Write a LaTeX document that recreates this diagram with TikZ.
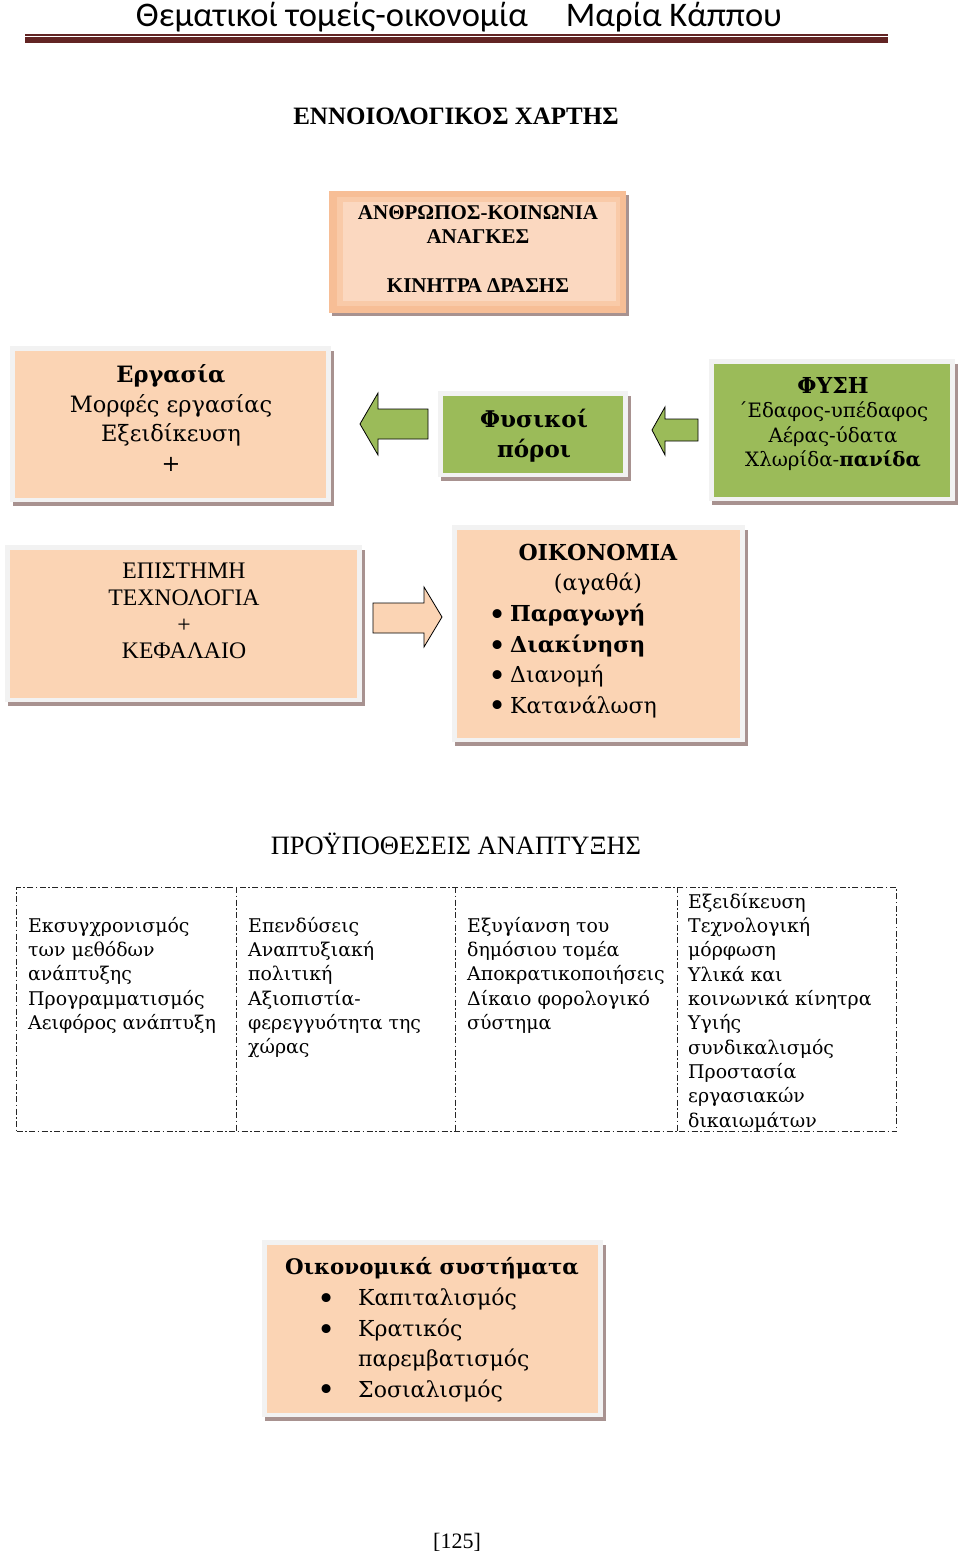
\documentclass[tikz,border=0pt]{standalone}
\usepackage{fontspec}
\setmainfont{DejaVu Serif}
\newfontfamily\tms{Liberation Serif}
\newfontfamily\hdr{Carlito}
\definecolor{peach}{HTML}{FBD4B4}
\definecolor{grn}{HTML}{9BBB59}
\definecolor{frm}{HTML}{F2F2F2}
\definecolor{shad}{HTML}{A89290}
\definecolor{maroon}{HTML}{622423}
\definecolor{topo}{HTML}{F7BE96}
\definecolor{topm}{HTML}{F9CAA8}
\definecolor{topi}{HTML}{FBD8C0}
\newcommand\bul[1]{\makebox[#1][l]{\raisebox{-0.17em}{\scalebox{1.4}{•}}}}
% panel: x1 y1 x2 y2 fill name
\newcommand\panel[6]{%
  \fill[shad] ({#1+3},{#2+5}) rectangle (#3,#4);
  \fill[frm] (#1,#2) rectangle ({#3-3},{#4-4});
  \node[fill=#5, inner sep=0, anchor=north west, minimum width={(#3-#1-13)*1pt}, minimum height={(#4-#2-13)*1pt}] (#6) at ({#1+5},{#2+5}) {};
}
\tikzset{
  txt/.style={inner sep=0, align=center},
  blockarrow/.style={draw=black, line width=0.8pt, line join=miter},
  dashdot/.style={draw=black!85, line width=1pt, dash pattern=on 6pt off 2.5pt on 1.5pt off 2.5pt}
}
\begin{document}
\begin{tikzpicture}[x=1pt,y=-1pt]
\useasboundingbox[fill=white] (0,0) rectangle (960,1557);

% header
\node[txt, font={\hdr\fontsize{34.5}{38}\selectfont}] (hdr) at (459,17) {Θεματικοί τομείς-οικονομία\hspace{38pt}Μαρία Κάππου};
\draw[maroon, line width=1.2pt] (25,35) -- (888,35);
\fill[maroon] (25,37.5) rectangle (888,43);

\node[txt, font={\tms\bfseries\fontsize{25}{28}\selectfont}] (title) at (456,116) {ΕΝΝΟΙΟΛΟΓΙΚΟΣ ΧΑΡΤΗΣ};

% top box
\fill[shad] (332,195) rectangle (629,316);
\fill[topo] (329,191) rectangle (626,313);
\fill[topm] (337,197) rectangle (620,306);
\node[fill=topi, inner sep=0, anchor=north west, minimum width=273pt, minimum height=99pt] (anth) at (343,202) {};
\node[txt, font={\tms\bfseries\fontsize{21}{24.5}\selectfont}] (anthT) at (478,249) {ΑΝΘΡΩΠΟΣ-ΚΟΙΝΩΝΙΑ\\ΑΝΑΓΚΕΣ\\ \\ΚΙΝΗΤΡΑ ΔΡΑΣΗΣ};

% Εργασία
\panel{10}{346}{334}{506}{peach}{erg}
\node[txt, font={\fontsize{22.5}{29.5}\selectfont}] (ergT) at (171,418) {\textbf{Εργασία}\\Μορφές εργασίας\\Εξειδίκευση\\+};

% Φυσικοί πόροι
\panel{438}{391}{631}{481}{grn}{fys}
\node[txt, font={\bfseries\fontsize{23}{30}\selectfont}] (fysT) at (534,436) {Φυσικοί\\πόροι};

% ΦΥΣΗ
\panel{709}{359}{958}{505}{grn}{fysi}
\node[txt, font={\fontsize{19.8}{24.5}\selectfont}] (fysiT) at (833,424) {\textbf{\fontsize{22}{24.5}\selectfont ΦΥΣΗ}\\΄Εδαφος-υπέδαφος\\Αέρας-ύδατα\\Χλωρίδα-\textbf{πανίδα}};

% arrows
\filldraw[grn, blockarrow] (360,424) -- (378,393) -- (378,409) -- (428,409) -- (428,439) -- (378,439) -- (378,455) -- cycle;
\filldraw[grn, blockarrow] (652,430) -- (665,407) -- (665,419) -- (698,419) -- (698,441) -- (665,441) -- (665,455) -- cycle;

% ΕΠΙΣΤΗΜΗ
\panel{5}{545}{365}{706}{peach}{epi}
\node[txt, font={\tms\fontsize{23.7}{26.7}\selectfont}] (epiT) at (184,611) {ΕΠΙΣΤΗΜΗ\\ΤΕΧΝΟΛΟΓΙΑ\\+\\ΚΕΦΑΛΑΙΟ};

\filldraw[peach, blockarrow] (373,603) -- (424,603) -- (424,587) -- (442,617) -- (424,647) -- (424,633) -- (373,633) -- cycle;

% ΟΙΚΟΝΟΜΙΑ
\panel{452}{525}{748}{746}{peach}{oik}
\node[txt, font={\fontsize{22}{30}\selectfont}] (oikT) at (598,570) {\textbf{ΟΙΚΟΝΟΜΙΑ}\\(αγαθά)};
\node[txt, anchor=west, align=left, font={\fontsize{22}{30.4}\selectfont}] (oikL) at (488,661) {\bul{22pt}\textbf{Παραγωγή}\\\bul{22pt}\textbf{Διακίνηση}\\\bul{22pt}Διανομή\\\bul{22pt}Κατανάλωση};

% ΠΡΟΫΠΟΘΕΣΕΙΣ
\node[txt, font={\tms\fontsize{26.5}{30}\selectfont}] (pro) at (456,844) {ΠΡΟΫΠΟΘΕΣΕΙΣ ΑΝΑΠΤΥΞΗΣ};

% table
\node[dashdot, inner sep=0, anchor=north west, minimum width=880pt, minimum height=244pt] (tbl) at (16,887) {};
\coordinate (d1t) at (236,887); \coordinate (d1b) at (236,1131);
\coordinate (d2t) at (455,887); \coordinate (d2b) at (455,1131);
\coordinate (d3t) at (677,887); \coordinate (d3b) at (677,1131);
\draw[dashdot] (d1t) -- (d1b);
\draw[dashdot] (d2t) -- (d2b);
\draw[dashdot] (d3t) -- (d3b);
\tikzset{cell/.style={inner sep=0, anchor=north west, align=left, font={\fontsize{18.9}{24.3}\selectfont}}}
\node[cell] (c1) at (28,917) {Εκσυγχρονισμός\\των μεθόδων\\ανάπτυξης\\Προγραμματισμός\\Αειφόρος ανάπτυξη};
\node[cell] (c2) at (248,917) {Επενδύσεις\\Αναπτυξιακή\\πολιτική\\Αξιοπιστία-\\φερεγγυότητα της\\χώρας};
\node[cell] (c3) at (467,917) {Εξυγίανση του\\δημόσιου τομέα\\Αποκρατικοποιήσεις\\Δίκαιο φορολογικό\\σύστημα};
\node[cell] (c4) at (688,893) {Εξειδίκευση\\Τεχνολογική\\μόρφωση\\Υλικά και\\κοινωνικά κίνητρα\\Υγιής\\συνδικαλισμός\\Προστασία\\εργασιακών\\δικαιωμάτων};

% Οικονομικά συστήματα
\panel{262}{1240}{606}{1421}{peach}{sys}
\node[txt, font={\bfseries\fontsize{21.4}{26}\selectfont}] (sysT) at (432,1268) {Οικονομικά συστήματα};
\node[txt, anchor=west, align=left, font={\fontsize{22}{30.4}\selectfont}] (sysL) at (317,1345) {\bul{41pt}Καπιταλισμός\\\bul{41pt}Κρατικός\\\hspace*{41pt}παρεμβατισμός\\\bul{41pt}Σοσιαλισμός};

\node[txt, font={\tms\fontsize{22}{26}\selectfont}] (page) at (457,1542) {[125]};
\end{tikzpicture}
\end{document}
